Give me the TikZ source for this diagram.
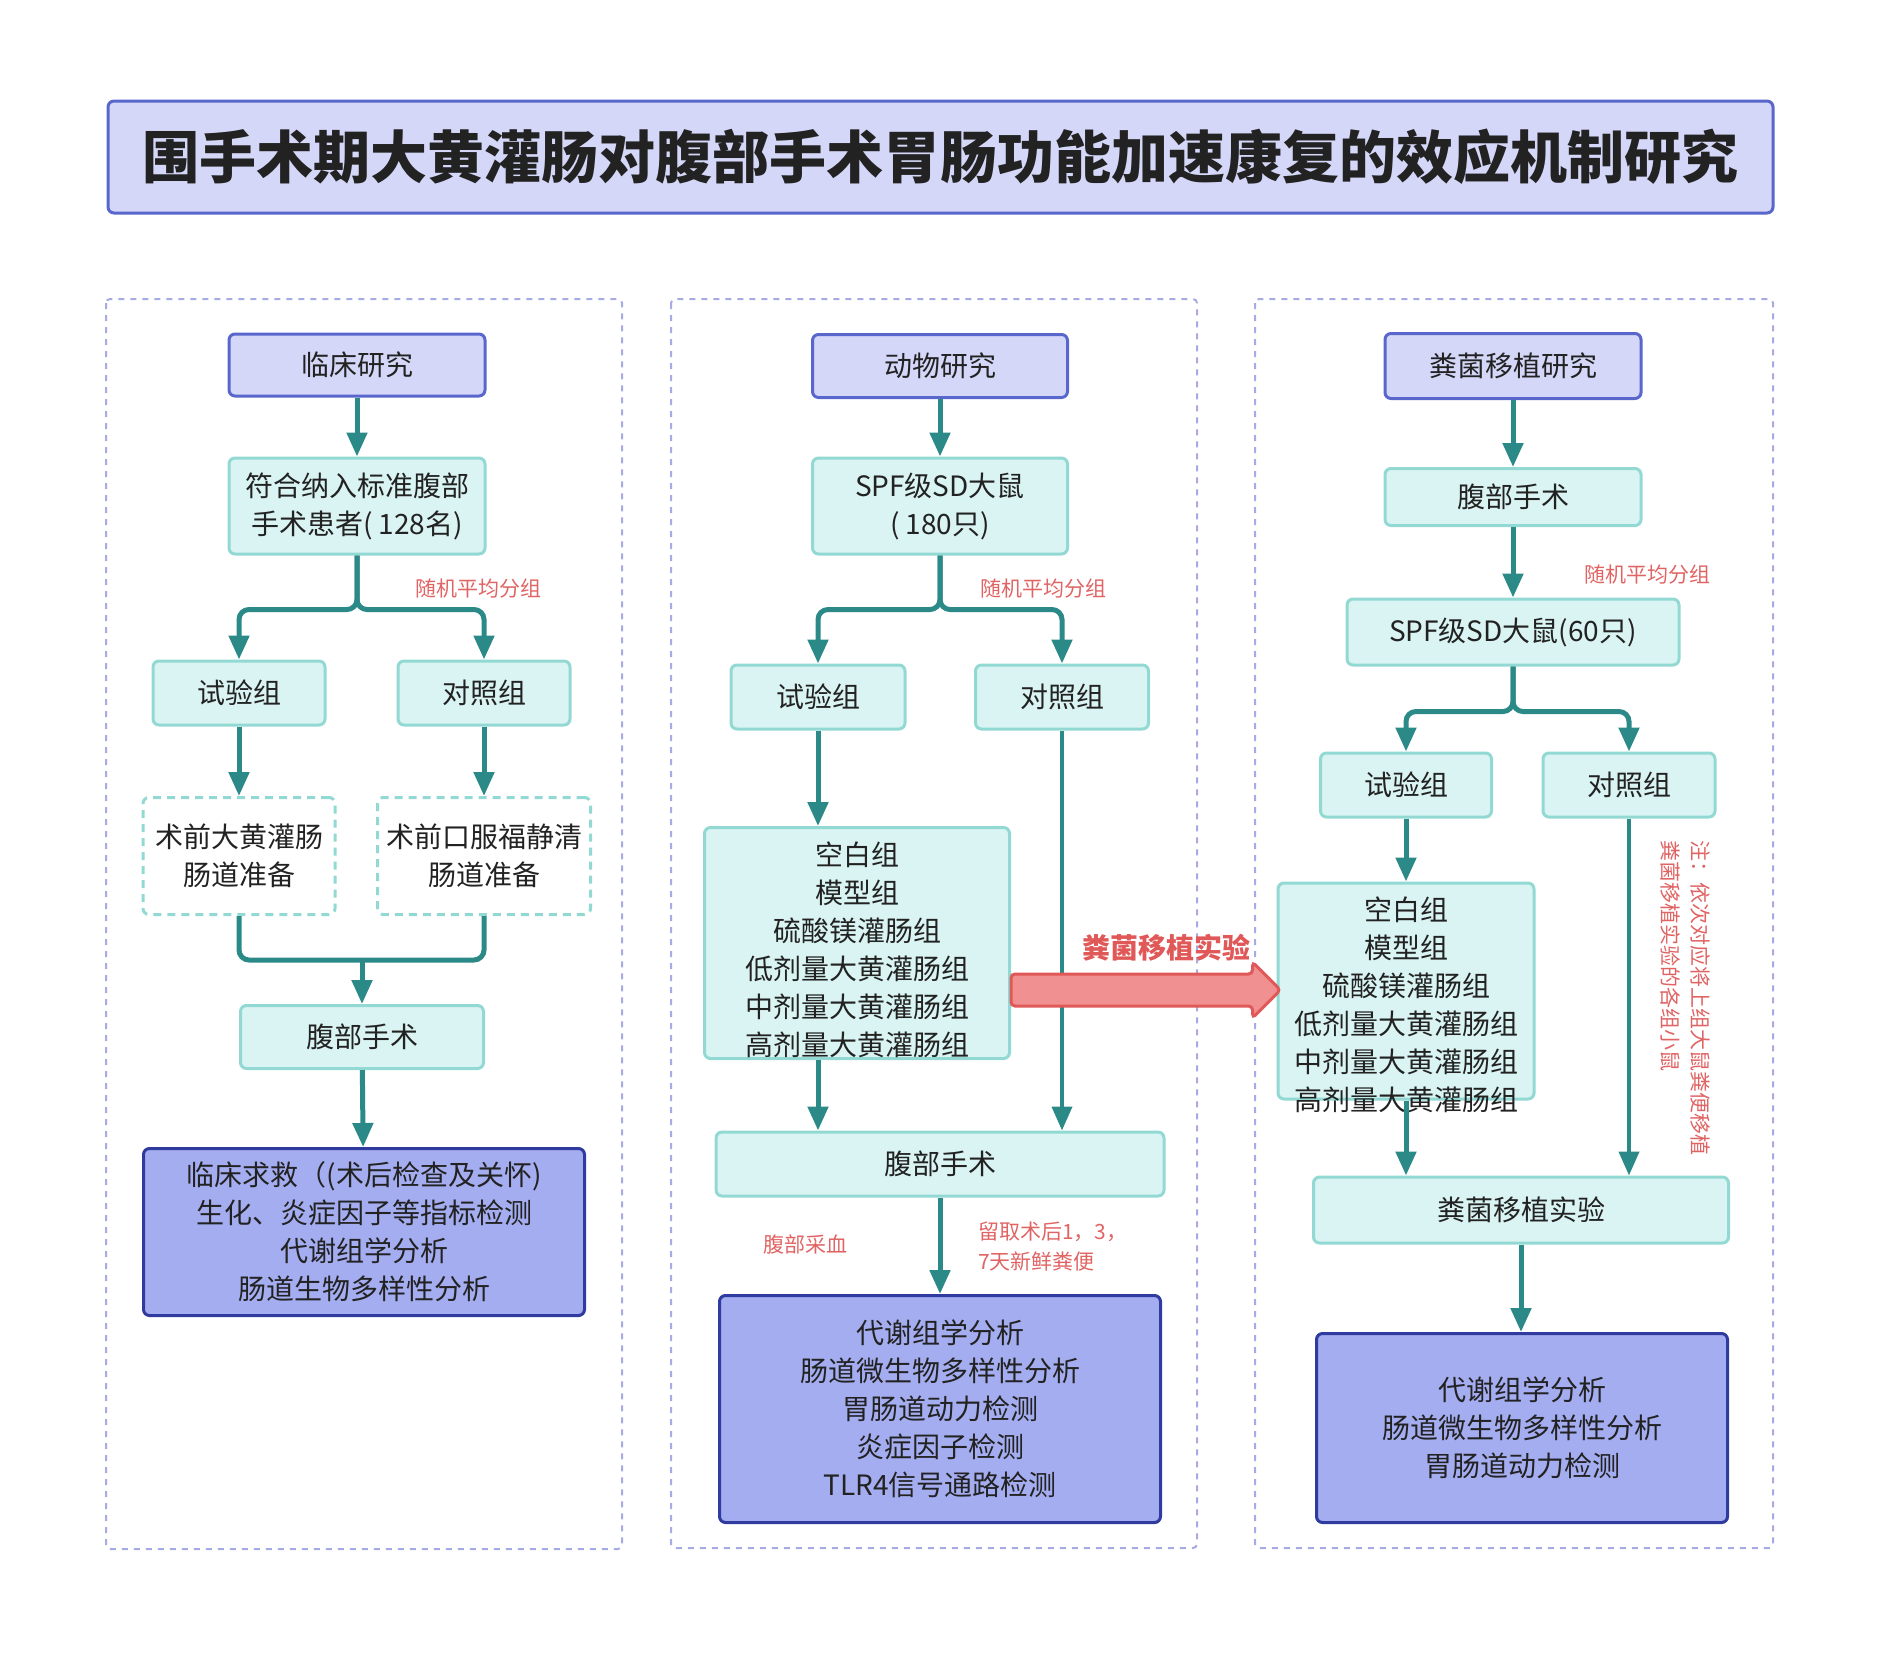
\documentclass[tikz,border=0pt]{standalone}
\usepackage{fontspec}
\setmainfont{Noto Sans CJK SC}
\usetikzlibrary{arrows.meta}
\usetikzlibrary{calc}

\definecolor{flowcol}{HTML}{2B8A87}
\definecolor{boxfill}{HTML}{D9F4F2}
\definecolor{boxline}{HTML}{93D9D3}
\definecolor{headfill}{HTML}{D4D7F7}
\definecolor{headline}{HTML}{5967CC}
\definecolor{resfill}{HTML}{A4ADF0}
\definecolor{resline}{HTML}{2F3B9E}
\definecolor{framecol}{HTML}{A6ABE3}
\definecolor{notecol}{HTML}{E06464}
\definecolor{bigfill}{HTML}{F09090}
\definecolor{bigline}{HTML}{E05858}
\definecolor{textcol}{HTML}{222222}

\tikzset{
  box/.style={rectangle, rounded corners=6pt, draw=boxline, fill=boxfill,
    line width=3pt, text=textcol, font=\fontsize{28}{38}\selectfont,
    align=center, inner sep=0pt},
  head/.style={box, draw=headline, fill=headfill},
  result/.style={box, draw=resline, fill=resfill},
  prep/.style={box, fill=white, dash pattern=on 8pt off 6pt},
  grouptext/.style={text=textcol, font=\fontsize{28}{38}\selectfont,
    align=center, inner sep=0pt},
  flow/.style={draw=flowcol, line width=5pt, rounded corners=10pt,
    -{Triangle[length=24pt,width=20pt]}},
  thinflow/.style={flow, line width=4pt},
  joint/.style={draw=flowcol, line width=5pt, rounded corners=10pt},
  panel/.style={draw=framecol, line width=2pt, dash pattern=on 6pt off 6pt,
    rounded corners=4pt},
  note/.style={text=notecol, font=\fontsize{21}{30}\selectfont, inner sep=2pt},
  bigarrow/.style={fill=bigfill, draw=bigline, line width=3pt, rounded corners=4pt}
}

\begin{document}
\begin{tikzpicture}[x=1pt, y=-1pt]
  \useasboundingbox (0,0) rectangle (1889,1663);

  % title
  \node[head, minimum width=1665pt, minimum height=112pt,
    font=\fontsize{57}{64}\selectfont\bfseries] (title) at (940.5,157)
    {围手术期大黄灌肠对腹部手术胃肠功能加速康复的效应机制研究};

  % dashed panels
  \draw[panel] (106,299) rectangle (622,1549);
  \draw[panel] (671,299) rectangle (1197,1548);
  \draw[panel] (1255,299) rectangle (1773,1548);

  % clinical study
  \node[head, minimum width=256pt, minimum height=62pt] (clin) at (357,365) {临床研究};
  \node[box, minimum width=256pt, minimum height=96pt] (pat1) at (357,506) {符合纳入标准腹部\\手术患者( 128名)};
  \node[box, minimum width=172pt, minimum height=64pt] (exp1) at (239,693) {试验组};
  \node[box, minimum width=172pt, minimum height=64pt] (ctl1) at (484,693) {对照组};
  \node[prep, minimum width=192pt, minimum height=117pt] (pre1) at (239,856) {术前大黄灌肠\\肠道准备};
  \node[prep, minimum width=213pt, minimum height=117pt] (pre2) at (484,856) {术前口服福静清\\肠道准备};
  \node[box, minimum width=243pt, minimum height=63pt] (op1) at (362,1037) {腹部手术};
  \node[result, minimum width=441pt, minimum height=167pt] (res1) at (364,1232)
    {临床求救（(术后检查及关怀)\\生化、炎症因子等指标检测\\代谢组学分析\\肠道生物多样性分析};
  \node[note] (rand1) at (478,589) {随机平均分组};

  \draw[flow] (clin) -- (pat1);
  \draw[flow] (pat1.south) -- ++(0,54) -| (exp1.north);
  \draw[flow] (pat1.south) -- ++(0,54) -| (ctl1.north);
  \draw[flow] (exp1) -- (pre1);
  \draw[flow] (ctl1) -- (pre2);
  \coordinate (m1) at (op1.north |- 0,960);
  \draw[joint] (pre1.south) |- (m1);
  \draw[joint] (pre2.south) |- (m1);
  \draw[flow] (m1) -- (op1.north);
  \draw[flow] (op1) -- (res1);

  % animal study
  \node[head, minimum width=255pt, minimum height=63pt] (anim) at (940,366) {动物研究};
  \node[box, minimum width=255pt, minimum height=96pt] (rat2) at (940,506) {SPF级SD大鼠\\( 180只)};
  \node[box, minimum width=174pt, minimum height=64pt] (exp2) at (818,697) {试验组};
  \node[box, minimum width=173pt, minimum height=64pt] (ctl2) at (1062,697) {对照组};
  \node[box, minimum width=305pt, minimum height=231pt] (grp2) at (857,943) {};
  \node[grouptext] (grp2txt) at (857,950)
    {空白组\\模型组\\硫酸镁灌肠组\\低剂量大黄灌肠组\\中剂量大黄灌肠组\\高剂量大黄灌肠组};
  \node[box, minimum width=448pt, minimum height=64pt] (op2) at (940,1164) {腹部手术};
  \node[result, minimum width=441pt, minimum height=227pt] (res2) at (940,1409)
    {代谢组学分析\\肠道微生物多样性分析\\胃肠道动力检测\\炎症因子检测\\TLR4信号通路检测};
  \node[note] (rand2) at (1043,589) {随机平均分组};
  \node[note] (blood) at (805,1244) {腹部采血};
  \node[note, anchor=west, align=left] (stool) at (976,1247) {留取术后1，3，\\7天新鲜粪便};

  \draw[flow] (anim) -- (rat2);
  \draw[flow] (rat2.south) -- ++(0,54) -| (exp2.north);
  \draw[flow] (rat2.south) -- ++(0,54) -| (ctl2.north);
  \draw[flow] (exp2) -- (exp2 |- grp2.north);
  \draw[flow] (exp2 |- grp2.south) -- (exp2 |- op2.north);
  \draw[thinflow] (ctl2) -- (ctl2 |- op2.north);
  \draw[flow] (op2) -- (res2);

  % faecal transplant study
  \node[head, minimum width=256pt, minimum height=65pt] (fmt) at (1513,366) {粪菌移植研究};
  \node[box, minimum width=256pt, minimum height=57pt] (op3) at (1513,497) {腹部手术};
  \node[box, minimum width=332pt, minimum height=66pt] (rat3) at (1513,632) {SPF级SD大鼠(60只)};
  \node[box, minimum width=171pt, minimum height=64pt] (exp3) at (1406,785) {试验组};
  \node[box, minimum width=172pt, minimum height=64pt] (ctl3) at (1629,785) {对照组};
  \node[box, minimum width=256pt, minimum height=216pt] (grp3) at (1406,991) {};
  \node[grouptext] (grp3txt) at (1406,1005)
    {空白组\\模型组\\硫酸镁灌肠组\\低剂量大黄灌肠组\\中剂量大黄灌肠组\\高剂量大黄灌肠组};
  \node[box, minimum width=415pt, minimum height=66pt] (fmtx) at (1521,1210) {粪菌移植实验};
  \node[result, minimum width=411pt, minimum height=189pt] (res3) at (1522,1428)
    {代谢组学分析\\肠道微生物多样性分析\\胃肠道动力检测};
  \node[note] (rand3) at (1647,575) {随机平均分组};
  \node[note, rotate=-90, anchor=north west, align=left] (memo) at (1712,838)
    {注：依次对应将上组大鼠粪便移植\\粪菌移植实验的各组小鼠};

  \draw[flow] (fmt) -- (op3);
  \draw[flow] (op3) -- (rat3);
  \draw[flow] (rat3.south) -- ++(0,45) -| (exp3.north);
  \draw[flow] (rat3.south) -- ++(0,45) -| (ctl3.north);
  \draw[flow] (exp3) -- (grp3);
  \draw[flow] (grp3.south) -- (grp3.south |- fmtx.north);
  \draw[thinflow] (ctl3) -- (ctl3 |- fmtx.north);
  \draw[flow] (fmtx) -- (res3.north -| fmtx);

  % transplant arrow
  \coordinate (bs) at ($(grp2.east)+(0,47)$);
  \coordinate (be) at ($(grp3.west |- bs)+(4,0)$);
  \draw[bigarrow] ($(bs)+(0,-16)$) -- ($(be)+(-28,-16)$) -- ($(be)+(-28,-28)$)
    -- (be) -- ($(be)+(-28,28)$) -- ($(be)+(-28,16)$) -- ($(bs)+(0,16)$) -- cycle;
  \node[text=bigline, font=\fontsize{28}{32}\selectfont\bfseries] (fmtlab) at (1166,948) {粪菌移植实验};
\end{tikzpicture}
\end{document}
